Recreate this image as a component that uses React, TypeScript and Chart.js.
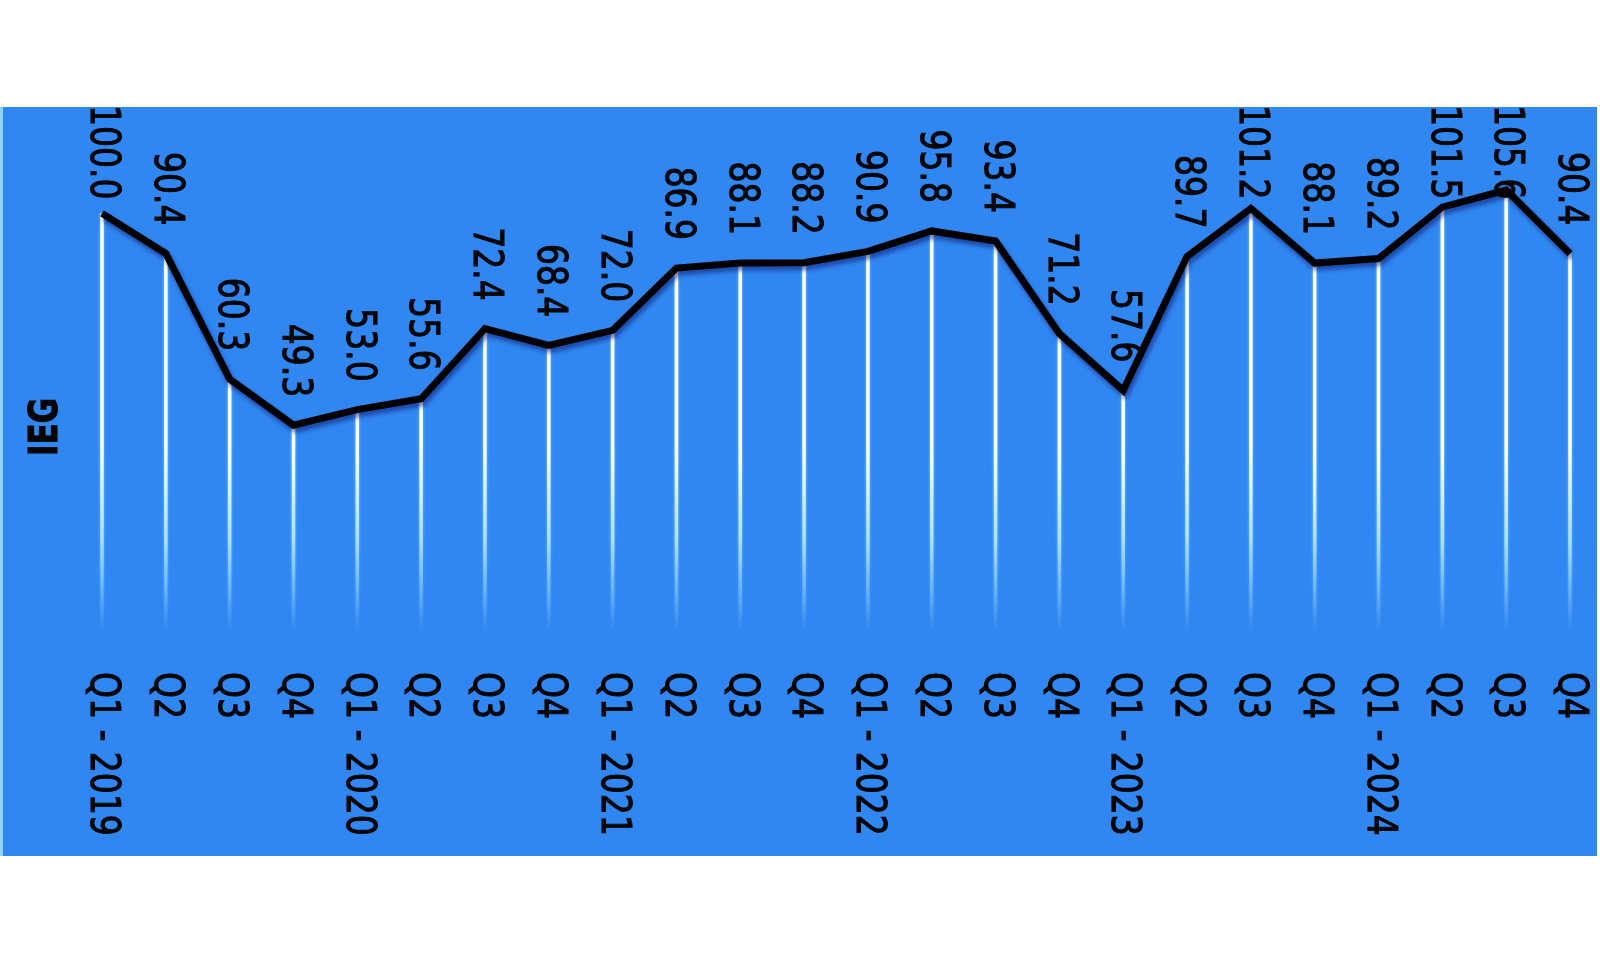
import { useEffect, useRef } from "react";
import { Chart, registerables } from "chart.js";

Chart.register(...registerables);

// x axis: one label per quarter, year only on Q1
const quarterLabels = [
  "Q1 - 2019", "Q2", "Q3", "Q4",
  "Q1 - 2020", "Q2", "Q3", "Q4",
  "Q1 - 2021", "Q2", "Q3", "Q4",
  "Q1 - 2022", "Q2", "Q3", "Q4",
  "Q1 - 2023", "Q2", "Q3", "Q4",
  "Q1 - 2024", "Q2", "Q3", "Q4",
];

const iegValues = [
  100.0, 90.4, 60.3, 49.3,
  53.0, 55.6, 72.4, 68.4,
  72.0, 86.9, 88.1, 88.2,
  90.9, 95.8, 93.4, 71.2,
  57.6, 89.7, 101.2, 88.1,
  89.2, 101.5, 105.6, 90.4,
];

const yTitle = "IEG";

const TEXT_STRETCH = 1.25; // the source picture is stretched sideways
const LABEL_FONT = "33px 'DejaVu Sans', sans-serif";

// white stems + rotated texts
const decorPlugin = {
  id: "decor",
  beforeDraw(chart: any) {
    const { ctx } = chart;
    ctx.save();
    ctx.fillStyle = "#8fd3ff";
    ctx.fillRect(0, 0, 3, chart.height);
    ctx.restore();
  },
  beforeDatasetsDraw(chart: any) {
    const { ctx } = chart;
    const xs = chart.scales.x;
    const ys = chart.scales.y;
    const base = ys.getPixelForValue(0);
    const grad = ctx.createLinearGradient(0, ys.getPixelForValue(110), 0, base);
    grad.addColorStop(0, "rgba(255,255,255,1)");
    grad.addColorStop(0.6, "rgba(255,255,255,1)");
    grad.addColorStop(0.8, "rgba(200,240,255,0.75)");
    grad.addColorStop(1, "rgba(150,220,255,0)");
    ctx.save();
    ctx.strokeStyle = grad;
    ctx.lineWidth = 3.5;
    ctx.shadowColor = "rgba(140,230,255,0.8)";
    ctx.shadowBlur = 3;
    iegValues.forEach((v, i) => {
      const px = xs.getPixelForValue(i);
      ctx.beginPath();
      ctx.moveTo(px, ys.getPixelForValue(v));
      ctx.lineTo(px, base);
      ctx.stroke();
    });
    ctx.restore();
  },
  beforeDatasetDraw(chart: any) {
    const { ctx } = chart;
    ctx.save();
    ctx.shadowColor = "rgba(10,20,110,0.55)";
    ctx.shadowOffsetX = 2;
    ctx.shadowOffsetY = 4;
    ctx.shadowBlur = 4;
  },
  afterDatasetDraw(chart: any) {
    chart.ctx.restore();
  },
  afterDatasetsDraw(chart: any) {
    const { ctx } = chart;
    const xs = chart.scales.x;
    const ys = chart.scales.y;

    const rotText = (text: string, x: number, y: number, align: CanvasTextAlign, angle: number, font: string) => {
      ctx.save();
      ctx.translate(x, y);
      ctx.scale(TEXT_STRETCH, 1);
      ctx.rotate(angle);
      ctx.font = font;
      ctx.fillStyle = "#050505";
      ctx.strokeStyle = "#050505";
      ctx.lineWidth = 0.9;
      ctx.textAlign = align;
      ctx.textBaseline = "middle";
      ctx.fillText(text, 0, 0);
      ctx.strokeText(text, 0, 0);
      ctx.restore();
    };

    // value labels, reading downwards, ending just above the point
    ctx.save();
    ctx.font = LABEL_FONT;
    iegValues.forEach((v, i) => {
      const text = v.toFixed(1);
      const len = ctx.measureText(text).width;
      let end = ys.getPixelForValue(v) - 28;
      if (end - len < -2) end = len - 2;
      rotText(text, xs.getPixelForValue(i), end, "right", Math.PI / 2, LABEL_FONT);
    });
    ctx.restore();

    // quarter labels under the plot
    const tickTop = ys.getPixelForValue(0) + 41;
    quarterLabels.forEach((lab, i) => {
      rotText(lab, xs.getPixelForValue(i), tickTop, "left", Math.PI / 2, LABEL_FONT);
    });

    // axis title
    rotText(yTitle, 47, 320, "center", -Math.PI / 2, "bold 31px 'DejaVu Sans', sans-serif");
  },
};

const IegChart = () => {
  const chartRef = useRef<HTMLCanvasElement | null>(null);
  const chartInstanceRef = useRef<Chart | null>(null);

  useEffect(() => {
    if (!chartRef.current) return;
    const ctx = chartRef.current.getContext("2d");
    if (!ctx) return;
    if (chartInstanceRef.current) chartInstanceRef.current.destroy();

    chartInstanceRef.current = new Chart(ctx, {
      type: "line",
      data: {
        labels: quarterLabels,
        datasets: [
          {
            label: yTitle,
            data: iegValues,
            borderColor: "#000000",
            borderWidth: 7,
            tension: 0,
            pointRadius: 0,
            borderJoinStyle: "miter",
            fill: false,
          },
        ],
      },
      options: {
        animation: false,
        responsive: true,
        maintainAspectRatio: false,
        layout: {
          padding: { left: 102, right: 27, top: 2, bottom: 225 },
        },
        plugins: {
          legend: { display: false },
          tooltip: { enabled: false },
        },
        scales: {
          x: { display: false, offset: false },
          y: { display: false, min: 0, max: 125 },
        },
      },
      plugins: [decorPlugin],
    });

    return () => {
      if (chartInstanceRef.current) {
        chartInstanceRef.current.destroy();
        chartInstanceRef.current = null;
      }
    };
  }, []);

  return (
    <div
      style={{
        position: "absolute",
        left: 0,
        top: 107,
        width: 1597,
        height: 749,
        background: "#3187f1",
      }}
    >
      <canvas ref={chartRef} />
    </div>
  );
};

export default function App() {
  return <IegChart />;
}
